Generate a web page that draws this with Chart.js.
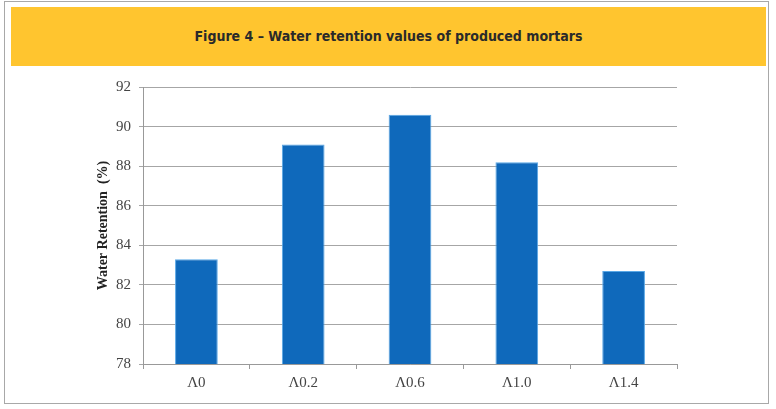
<!DOCTYPE html>
<html>
<head>
<meta charset="utf-8">
<script src="https://cdn.jsdelivr.net/npm/chart.js@4"></script>
<style>
  html, body { margin: 0; padding: 0; background: #fff; }
  #wrap { position: relative; width: 776px; height: 409px; overflow: hidden; }
  #frame { position: absolute; left: 4px; top: 1px; width: 763px; height: 401px;
           border: 1.5px solid #a8a8a8; box-sizing: content-box; }
  #head { position: absolute; left: 11px; top: 7px; width: 755px; height: 59px;
          background: #ffc52f; color: #2a2a2a; font-family: "DejaVu Sans Condensed", "DejaVu Sans", sans-serif;
          font-size: 14px; font-weight: bold; text-align: center; line-height: 59px; }
  #chart { position: absolute; left: 0; top: 0; }
</style>
</head>
<body>
<div id="wrap">
  <div id="frame"></div>
  <div id="head">Figure 4 – Water retention values of produced mortars</div>
  <canvas id="chart" width="776" height="409"></canvas>
</div>
<script>
// waarden
const categories = ['Λ0', 'Λ0.2', 'Λ0.6', 'Λ1.0', 'Λ1.4'];
const waterRetention = [83.3, 89.1, 90.6, 88.2, 82.7];
const yTicks = [78, 80, 82, 84, 86, 88, 90, 92];

const renderChart = () => {
    const ctx = document.getElementById('chart').getContext('2d');

    new Chart(ctx, {
        type: 'bar',
        data: {
            labels: categories,
            datasets: [{
                label: 'Water Retention (%)',
                data: waterRetention,
                backgroundColor: '#0f69bb',
                borderColor: '#5aa8e6',
                borderWidth: 1,
                barPercentage: 0.4,
                categoryPercentage: 1
            }]
        },
        options: {
            responsive: false,
            animation: false,
            layout: { padding: { left: 91, right: 99, top: 87, bottom: 15 } },
            plugins: {
                legend: { display: false },
                tooltip: { enabled: false }
            },
            scales: {
                x: {
                    grid: { display: true, drawOnChartArea: false, color: '#999', tickLength: 5, offset: true },
                    border: { color: '#999' },
                    ticks: { color: '#444', padding: 5, font: { family: 'Liberation Serif', size: 15 } },
                    afterFit: (scale) => { scale.height = 30; }
                },
                y: {
                    min: 78,
                    max: 92,
                    afterBuildTicks: (scale) => { scale.ticks = yTicks.map(v => ({ value: v })); },
                    grid: { color: '#a6a6a6', tickLength: 4 },
                    border: { color: '#999' },
                    ticks: { color: '#444', padding: 8, font: { family: 'Liberation Serif', size: 15 } },
                    title: {
                        display: true,
                        text: 'Water Retention  (%)',
                        color: '#222',
                        font: { family: 'Liberation Serif', size: 14, weight: 'bold' }
                    },
                    afterFit: (scale) => { scale.width = 52; }
                }
            }
        }
    });
};

document.addEventListener('DOMContentLoaded', renderChart);
</script>
</body>
</html>
